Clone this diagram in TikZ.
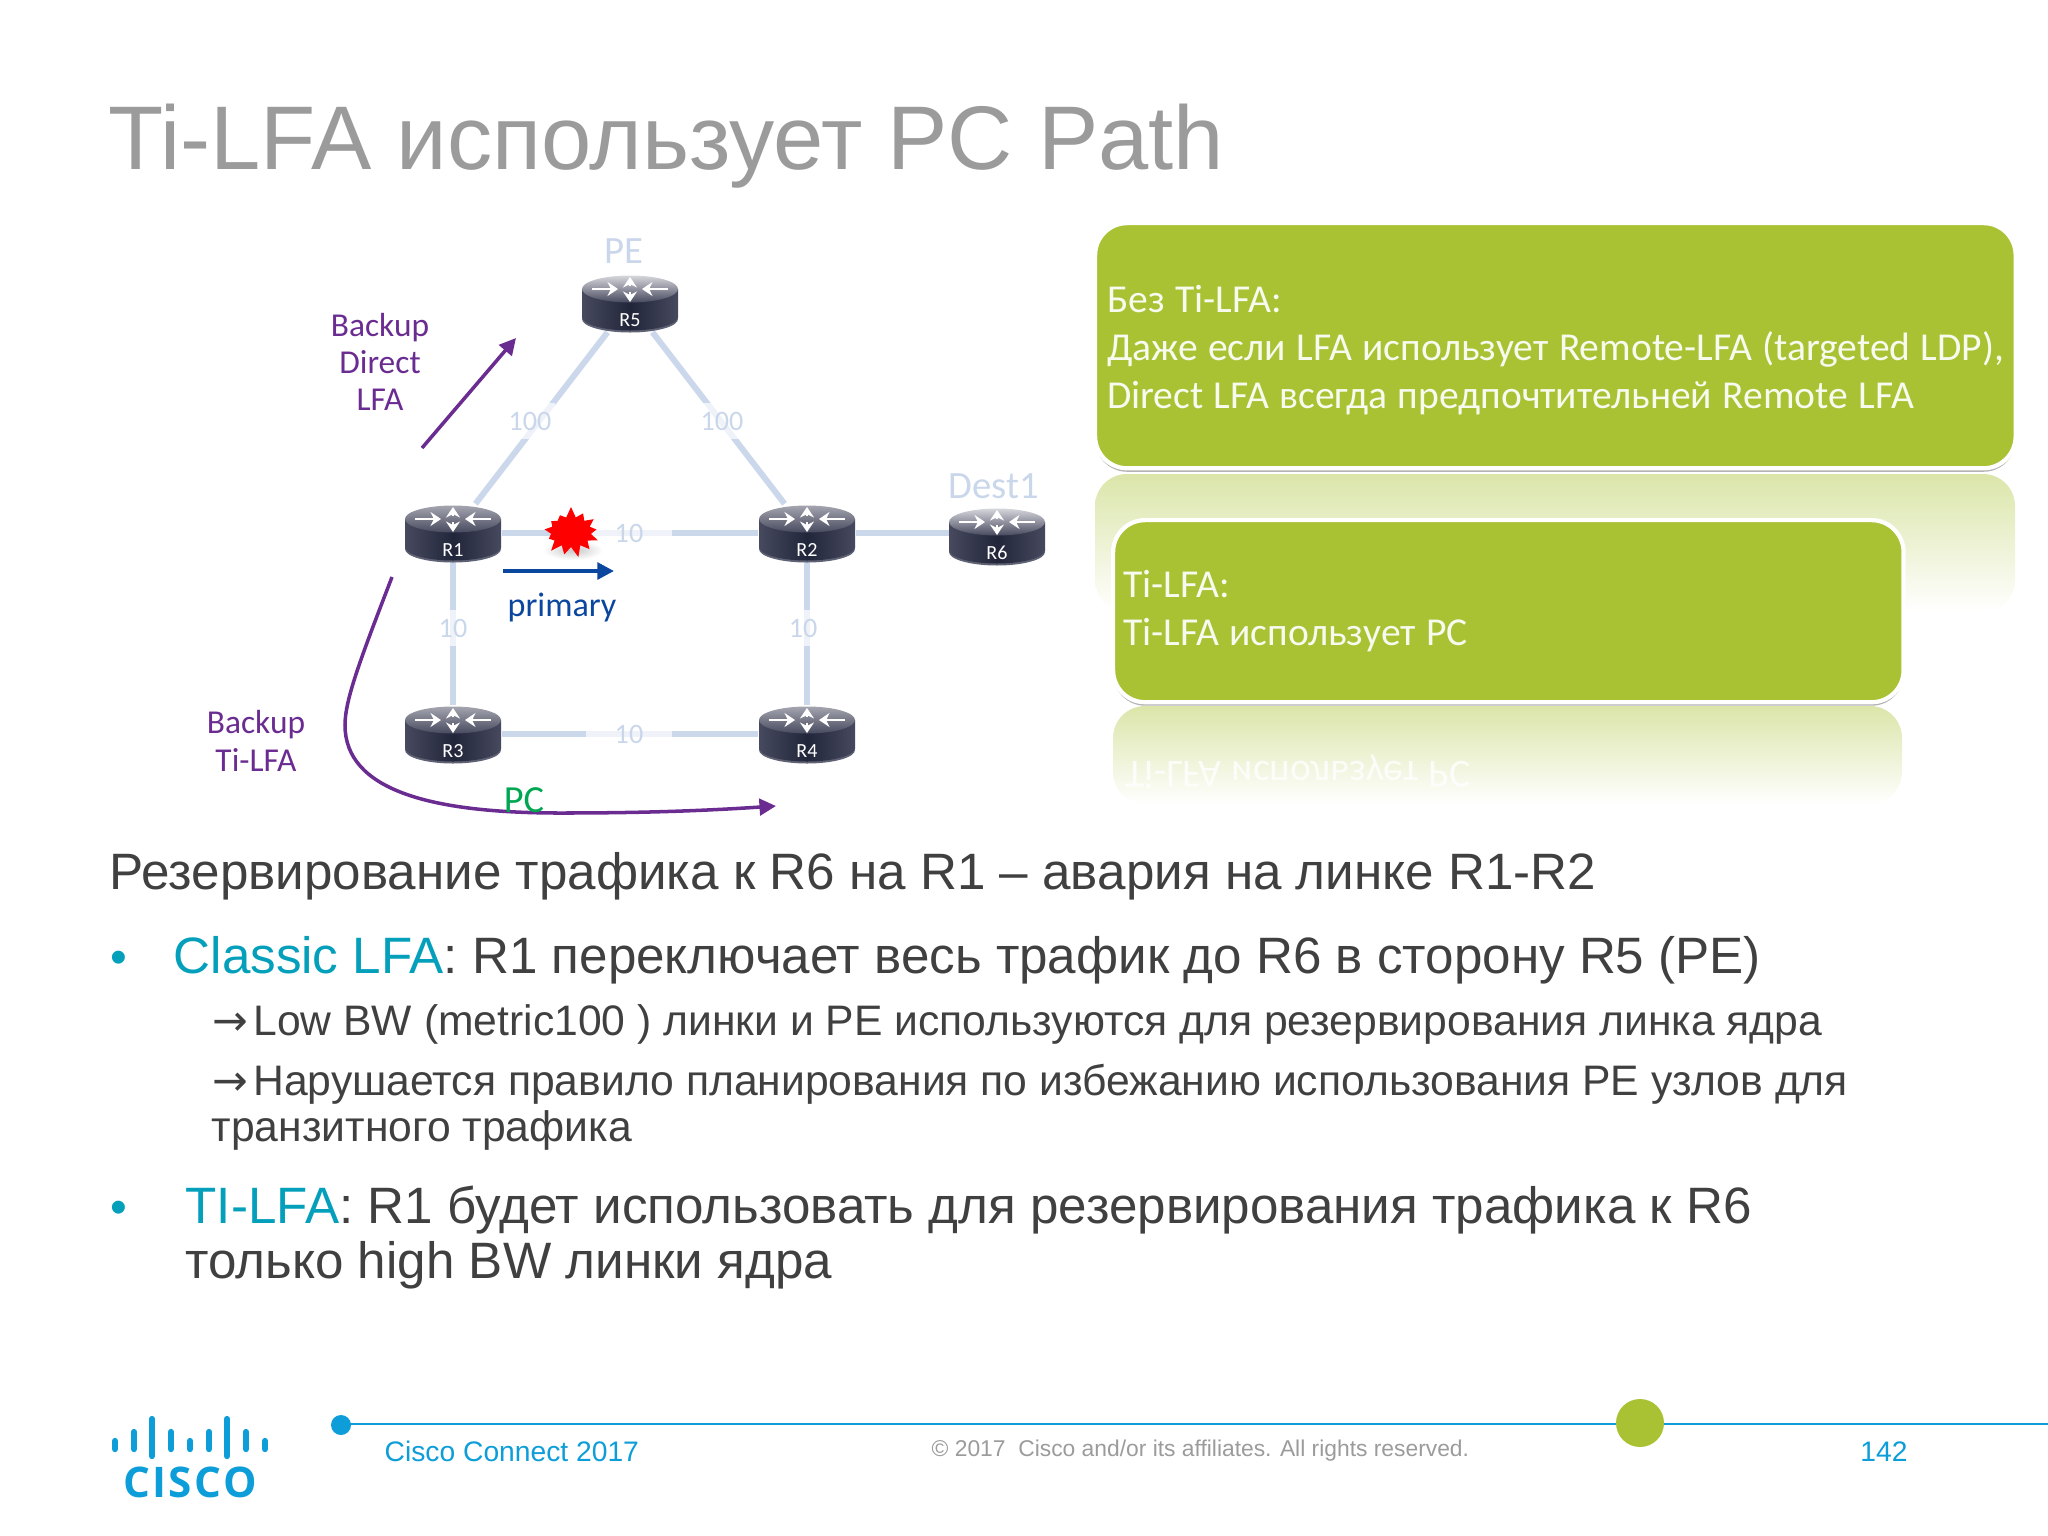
\documentclass[tikz,border=0pt]{standalone}
\usepackage{graphicx}
\usepackage{fontspec}
\setmainfont{Liberation Sans}
\newfontfamily\calibrifont{Carlito}
\newfontfamily\logofont[LetterSpace=6]{Open Sans}
\newfontfamily\arrowfont{DejaVu Sans}
\usetikzlibrary{arrows.meta,backgrounds,shadows,shapes.symbols}
\newcommand{\tightspaces}{\spaceskip=.26em\relax}
\definecolor{slidegray}{HTML}{9B9B9B}
\definecolor{bodygray}{HTML}{404040}
\definecolor{ciscoblue}{HTML}{0D9DD9}
\definecolor{tealblue}{HTML}{049FBA}
\definecolor{limegreen}{HTML}{A9C233}
\definecolor{linkblue}{HTML}{CBD8EC}
\definecolor{fadedblue}{HTML}{CAD7EB}
\definecolor{backuppurple}{HTML}{6A2C91}
\definecolor{primaryblue}{HTML}{0B479F}
\definecolor{pcgreen}{HTML}{00A651}
\definecolor{routerdark}{HTML}{22263A}
\definecolor{routeredge}{HTML}{474A5E}
\definecolor{routerrim}{HTML}{5F6274}
\tikzset{
	linkline/.style={linkblue,line width=1.7pt},
	linklabel/.style={fill=white,fill opacity=.7,text opacity=1,text=fadedblue,inner sep=1pt,font=\calibrifont\fontsize{8}{8}\selectfont},
	fadedlabel/.style={text=fadedblue,inner sep=0pt,font=\calibrifont\fontsize{11}{11}\selectfont},
	purpletext/.style={text=backuppurple,align=center,inner sep=0pt,font=\calibrifont\fontsize{9.5}{10.6}\selectfont},
	routerbox/.style={minimum width=.96cm,minimum height=.57cm,inner sep=0pt},
	routertext/.style={text=white,inner sep=0pt,font=\calibrifont\fontsize{5.7}{6}\selectfont},
	routerarrow/.style={-{Stealth[length=3pt,width=4pt]},white,line width=.6pt},
	purplearrow/.style={->,backuppurple,line width=1pt},
	greenbox/.style={fill=limegreen,draw=white,line width=1.2pt,rounded corners=.32cm,align=left,text=white!92!limegreen,
		inner ysep=0pt,font=\calibrifont\fontsize{11.25}{13.65}\selectfont,
		drop shadow={shadow xshift=0pt,shadow yshift=-1pt,fill=black!50,opacity=.6}},
	reflection/.style={top color=limegreen!42!white,bottom color=white,rounded corners=.32cm},
	bodytext/.style={anchor=base west,text=bodygray,inner sep=0pt,font=\fontsize{14.55}{16}\selectfont},
	subtext/.style={anchor=base west,text=bodygray,inner sep=0pt,font=\fontsize{12.13}{14}\selectfont},
	bulletmark/.style={text=tealblue,anchor=base west,inner sep=0pt,font=\fontsize{13.6}{16}\selectfont},
	footertext/.style={inner sep=0pt,font=\fontsize{8.03}{9}\selectfont},
}
\begin{document}
\begin{tikzpicture}[>={Triangle[length=4.7pt,width=4.7pt]},x=0.01cm,y=-0.01cm]
	\useasboundingbox (0,0) rectangle (2048,1536);
	\node[anchor=base west,text=slidegray,inner sep=0pt,font=\fontsize{25.7}{30}\selectfont] (slidetitle) at (108,169) {Ti-LFA использует PC Path};
	% routers
	\foreach \rname/\rx/\ry/\rtop in {R5/630/303/D6D6DC,R1/453/533/A4A5AF,R2/807/533/A4A5AF,R6/997/536/D6D6DC,R3/453/734/A4A5AF,R4/807/734/A4A5AF}{
		\definecolor{routertop}{HTML}{\rtop}
		\begin{scope}[shift={(\rx,\ry)}]
			\fill[routerrim] (0,16) ellipse (48 and 13.5);
			\shade[left color=routeredge,right color=routeredge,middle color=routerdark] (-48,-14) rectangle (48,14);
			\shade[left color=routeredge,right color=routeredge,middle color=routerdark] (0,14) ellipse (48 and 13.5);
			\shade[top color=routertop,bottom color=routeredge] (0,-14) ellipse (48 and 13.5);
			\draw[routerarrow] (-38,-14)--(-12,-14);
			\draw[routerarrow] (38,-14)--(12,-14);
			\draw[routerarrow] (0,-17)--(0,-26);
			\draw[routerarrow] (0,-11)--(0,-1);
		\end{scope}
		\node[routerbox,label={[routertext,yshift=-.17cm]center:\rname}] (\rname) at (\rx,\ry) {};
	}
	\begin{scope}[on background layer]
		\draw[linkline] (R1)--(R5);
		\draw[linkline] (R5)--(R2);
		\draw[linkline] (R1)--(R2);
		\draw[linkline] (R2)--(R2-|R6);
		\draw[linkline] (R1)--(R3);
		\draw[linkline] (R2)--(R4);
		\draw[linkline] (R3)--(R4);
	\end{scope}
	\node[linklabel,minimum height=.36cm] (labelone) at (530,421) {100};
	\node[linklabel,minimum height=.36cm] (labeltwo) at (722,421) {100};
	\node[linklabel,minimum width=.85cm] (labelthree) at (629,533) {10};
	\node[linklabel,minimum height=.36cm] (labelfour) at (453,628) {10};
	\node[linklabel,minimum height=.36cm] (labelfive) at (803,628) {10};
	\node[linklabel,minimum width=.85cm] (labelsix) at (629,734) {10};
	\node[fadedlabel] (pelabel) at (624,251) {PE};
	\node[fadedlabel] (destlabel) at (994,486) {Dest1};
	% failure mark
	\shade[inner color=black!22,outer color=white] (573,550) ellipse (30 and 10);
	\node[starburst,starburst points=13,starburst point height=.11cm,random starburst=7,fill=red,inner sep=.6pt,minimum width=.62cm,minimum height=.52cm] (failmark) at (571,532) {};
	\coordinate (primarya) at (503,571);
	\coordinate (primaryb) at (614,571);
	\draw[->,primaryblue,line width=1.1pt] (primarya)--(primaryb);
	\node[text=primaryblue,inner sep=0pt,font=\calibrifont\fontsize{9.7}{11}\selectfont] (primarylabel) at (562,608) {primary};
	% backup paths
	\node[purpletext] (directlabel) at (380,362) {Backup\\Direct\\LFA};
	\node[purpletext] (tilfalabel) at (256,741) {Backup\\Ti-LFA};
	\coordinate (directa) at (422,448);
	\coordinate (directb) at (516,338);
	\draw[purplearrow] (directa)--(directb);
	\coordinate (tilfaa) at (392,577);
	\coordinate (tilfab) at (776,806);
	\draw[purplearrow] (tilfaa) .. controls (360,660) and (345,700) .. (345,725) .. controls (345,790) and (430,813) .. (560,813) .. controls (640,813) and (700,811) .. (tilfab);
	\node[text=pcgreen,inner sep=0pt,font=\calibrifont\fontsize{10.9}{11}\selectfont] (pclabel) at (524,800) {PC};
	% green boxes
	\shade[reflection] (1095,474) rectangle (2015,612);
	\node[greenbox,anchor=north west,text width=8.96cm,inner xsep=.12cm,minimum height=2.45cm] (withoutbox) at (1093,221) {\tightspaces\rule{0pt}{10.1pt}Без Ti-LFA:\\\mbox{Даже если LFA использует Remote-LFA (targeted LDP),}\\Direct LFA всегда предпочтительней Remote LFA};
	\shade[reflection] (1113,706) rectangle (1902,804);
	\node[anchor=base west,text=white,inner sep=0pt,opacity=.8,font=\calibrifont\fontsize{11.25}{13}\selectfont] (mirrortext) at (1125,761) {\scalebox{1}[-1]{\tightspaces Ti-LFA использует PC}};
	\node[greenbox,anchor=north west,text width=7.7cm,inner xsep=.1cm,minimum height=1.82cm] (tilfabox) at (1111,518) {\tightspaces Ti-LFA:\\Ti-LFA использует PC};
	% body text
	\node[bodytext] (introline) at (109,889) {Резервирование трафика к R6 на R1 – авария на линке R1-R2};
	\node[bulletmark] (bulletone) at (110,973) {•};
	\node[bodytext] (classicline) at (173,973) {\textcolor{tealblue}{Classic LFA}: R1 переключает весь трафик до R6 в сторону R5 (PE)};
	\node[subtext] (subone) at (212,1035) {{\arrowfont→}\hspace{.05cm}Low BW (metric100 ) линки и PE используются для резервирования линка ядра};
	\node[subtext] (subtwo) at (212,1095) {{\arrowfont→}\hspace{.05cm}Нарушается правило планирования по избежанию использования PE узлов для};
	\node[subtext] (subthree) at (211,1141) {транзитного трафика};
	\node[bulletmark] (bullettwo) at (110,1223) {•};
	\node[bodytext] (tilfaline) at (185,1223) {\textcolor{tealblue}{TI-LFA}: R1 будет использовать для резервирования трафика к R6};
	\node[bodytext] (tilfalinetwo) at (185,1278) {только high BW линки ядра};
	% footer
	\fill[ciscoblue] (341,1425) circle (10);
	\coordinate (lineend) at (2048,1424);
	\draw[ciscoblue,line width=.55pt] (341,1424)--(lineend);
	\fill[limegreen] (1640,1423) circle (24);
	\node[footertext,anchor=base west,text=ciscoblue] (footerevent) at (384,1461) {Cisco Connect 2017};
	\node[footertext,anchor=base west,text=slidegray,font=\fontsize{6.49}{8}\selectfont] (footercopy) at (931,1456) {© 2017\ \ Cisco and/or its affiliates. All rights reserved.};
	\node[footertext,text=ciscoblue] (footerpage) at (1884,1452) {142};
	% logo
	\foreach \barx/\bartop/\barbot in {115/1441/1449,134/1432/1449,152/1419/1456,171/1432/1449,190/1441/1449,209/1432/1449,227/1419/1456,246/1432/1449,265/1441/1449}{
		\draw[ciscoblue,line width=1.8pt,line cap=round] (\barx,\bartop)--(\barx,\barbot);
	}
	\node[text=ciscoblue,inner sep=0pt,font=\logofont\bfseries\fontsize{12}{12}\selectfont] (logotext) at (190,1482) {CISCO};
\end{tikzpicture}
\end{document}
